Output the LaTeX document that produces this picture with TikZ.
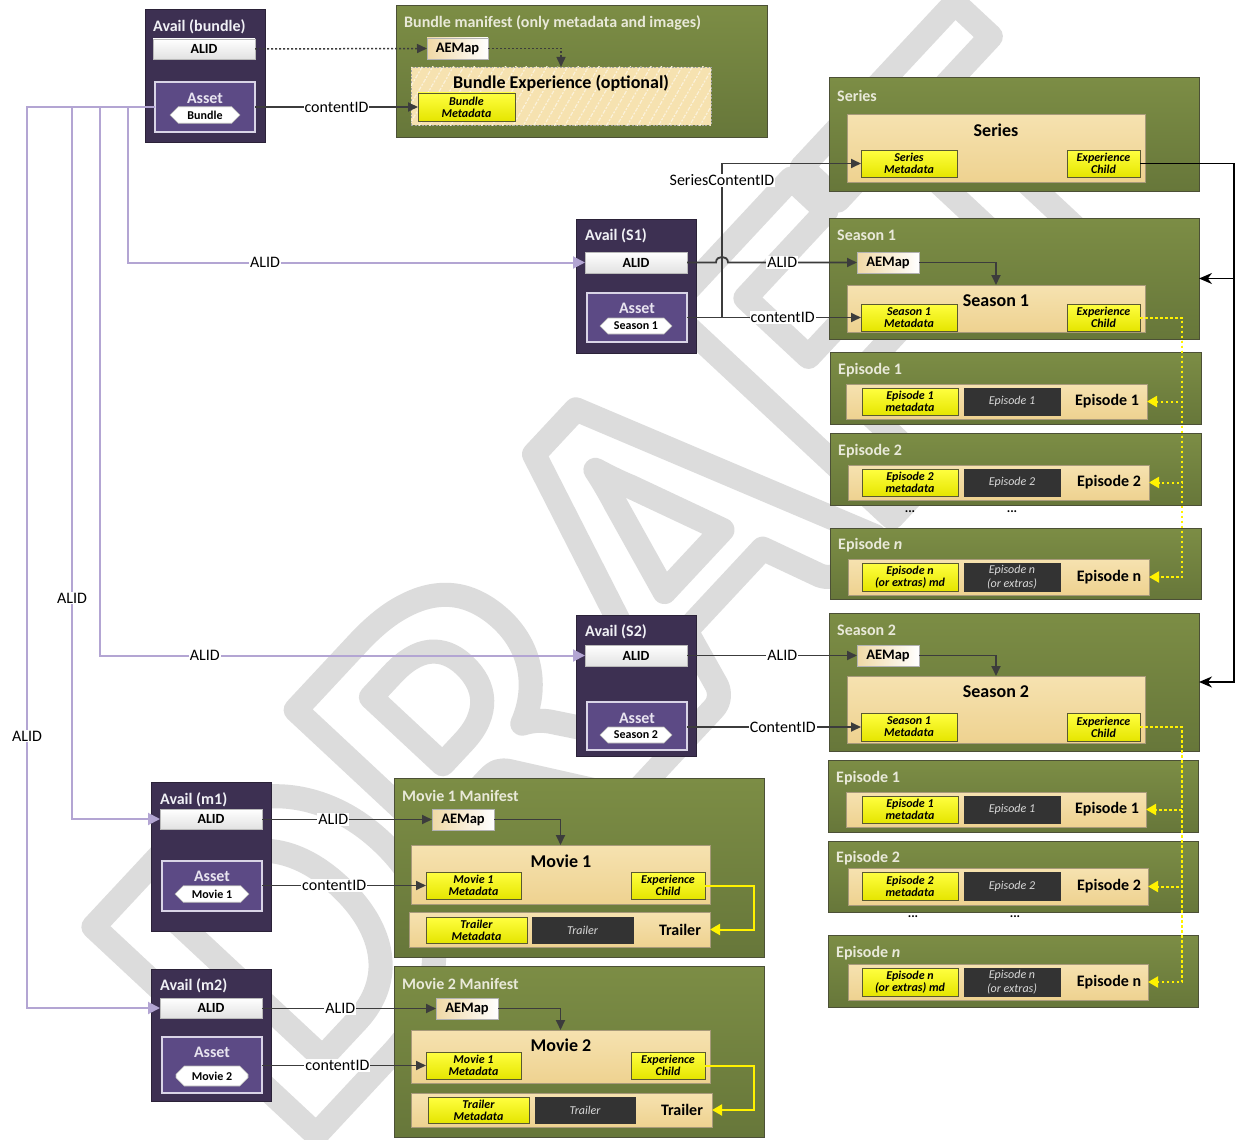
\documentclass[tikz,border=0pt]{standalone}
\usepackage{fontspec}
\setmainfont{Carlito}
\usetikzlibrary{arrows.meta,patterns.meta,shapes.misc}
\definecolor{avail}{HTML}{3D3052}
\definecolor{availbd}{HTML}{2B2238}
\definecolor{asset}{HTML}{5C4A85}
\definecolor{assetbd}{HTML}{D9D4E6}
\definecolor{alidB}{HTML}{E2E2E2}
\definecolor{grnT}{HTML}{7C8D45}
\definecolor{grnB}{HTML}{67773A}
\definecolor{grnbd}{HTML}{4C5036}
\definecolor{grntxt}{HTML}{E9E9D9}
\definecolor{beigeT}{HTML}{F6E2B0}
\definecolor{beigeB}{HTML}{EED290}
\definecolor{beigebd}{HTML}{A89A7A}
\definecolor{yelT}{HTML}{FFFF40}
\definecolor{yelB}{HTML}{E5E500}
\definecolor{ybd}{HTML}{5A5A30}
\definecolor{darkbx}{HTML}{333333}
\definecolor{dbtxt}{HTML}{DADADA}
\definecolor{aemL}{HTML}{F0D9A6}
\definecolor{lav}{HTML}{B3A5D3}
\definecolor{connc}{HTML}{3C3C3C}
\definecolor{wm}{HTML}{DCDCDC}
\definecolor{availtxt}{HTML}{F0F0F5}
\definecolor{assettxt}{HTML}{E8E4F0}
\begin{document}
\begin{tikzpicture}[x=1pt,y=-1pt,
  bx/.style={draw, anchor=north west, inner sep=0pt, outer sep=0pt},
  wh/.style 2 args={minimum width=#1pt, minimum height=#2pt},
  availbox/.style={bx, fill=avail, draw=availbd, line width=1pt},
  assetbox/.style={bx, fill=asset, draw=assetbd, line width=1.2pt},
  alid/.style={bx, top color=white, bottom color=alidB, draw=gray!55, line width=0.8pt, font=\fontsize{14}{14}\selectfont\bfseries},
  grn/.style={bx, top color=grnT, bottom color=grnB, draw=grnbd, line width=1pt},
  bg/.style={bx, top color=beigeT, bottom color=beigeB, draw=beigebd, line width=1pt},
  yb/.style={bx, top color=yelT, bottom color=yelB, draw=ybd, line width=0.8pt, align=center, font=\fontsize{12}{12}\selectfont\bfseries\itshape},
  db/.style={bx, fill=darkbx, draw=black!80, line width=0.6pt, align=center, text=dbtxt, font=\fontsize{12}{14}\selectfont\itshape},
  aem/.style={bx, left color=aemL, right color=white, draw=gray!60, line width=0.8pt, font=\fontsize{14.5}{14.5}\selectfont\bfseries},
  ttlw/.style={anchor=west, inner sep=0pt, text=availtxt, font=\fontsize{16}{16}\selectfont\bfseries},
  ttlg/.style={anchor=west, inner sep=0pt, text=grntxt, font=\fontsize{16}{16}\selectfont\bfseries},
  big/.style={inner sep=0pt, font=\fontsize{18}{18}\selectfont\bfseries},
  eplab/.style={inner sep=0pt, font=\fontsize{16}{16}\selectfont\bfseries},
  assett/.style={inner sep=0pt, text=assettxt, font=\fontsize{16}{16}\selectfont\bfseries},
  hexn/.style={chamfered rectangle, chamfered rectangle xsep=8pt, chamfered rectangle ysep=4pt, fill=white, draw=gray!60, line width=0.6pt, inner sep=0pt, font=\fontsize{12}{12}\selectfont\bfseries},
  lbl/.style={fill=white, inner sep=1pt, font=\fontsize{16}{16}\selectfont},
  conn/.style={draw=connc, line width=1.8pt, -{Triangle[length=10pt,width=9pt]}},
  lavc/.style={draw=lav, line width=2pt, -{Triangle[length=12pt,width=12pt]}},
  ydot/.style={draw=yellow, line width=2pt, dash pattern=on 2.5pt off 2.5pt, -{Triangle[length=10pt,width=11pt]}},
  ysol/.style={draw=yellow, line width=2pt, -{Triangle[length=10pt,width=11pt]}},
  blk/.style={draw=black, line width=1.8pt, -{Stealth[length=13pt,width=11pt]}},
  dotc/.style={draw=connc, line width=1.5pt, dash pattern=on 2pt off 2pt, -{Triangle[length=10pt,width=9pt]}},
  dotsn/.style={inner sep=0pt, font=\fontsize{13}{13}\selectfont\bfseries}
]
\fill[white] (0,0) rectangle (1235,1140);
\useasboundingbox (0,0) rectangle (1235,1140);
% watermark
\begin{scope}
\clip (0,0) rectangle (1235,1140);
\node[rotate=47, inner sep=0pt, text=wm, font=\fontsize{470}{470}\selectfont\bfseries] (wmk) at (628,577) {\special{pdf:literal direct q 1 Tr 24 w 1 j}DRAFT\special{pdf:literal direct Q}};
\end{scope}

% ---------- Avail (bundle)
\node[availbox, wh={120}{132}] (avb) at (145,10) {};
\node[ttlw] (avbT) at (153,27) {Avail (bundle)};
\node[alid, wh={102}{20}] (avbA) at (153,39) {ALID};
\node[assetbox, wh={100}{50}] (avbS) at (155,82) {};
\node[assett] (avbST) at (205,98) {Asset};
\node[hexn, wh={70}{15}] (avbH) at (205,115) {Bundle};

% ---------- Bundle manifest
\node[grn, wh={371}{131}] (bm) at (396,6) {};
\node[ttlg] (bmT) at (404,23) {Bundle manifest (only metadata and images)};
\node[aem, wh={61}{21}] (bmA) at (427,38) {AEMap};
\node[bx, wh={300}{58}, fill=beigeT, draw=gray!70, dash pattern=on 2pt off 1.5pt, line width=0.9pt,
  postaction={pattern={Lines[angle=60,distance=9pt,line width=1.2pt]}, pattern color=white!55!beigeT}] (bmE) at (411,67) {};
\node[big] (bmET) at (561,83) {Bundle Experience (optional)};
\node[yb, wh={97}{28}] (bmM) at (418,93) {Bundle\\Metadata};

% ---------- Series
\node[grn, wh={370}{113}] (se) at (829,78) {};
\node[ttlg] (seT) at (837,96) {Series};
\node[bg, wh={298}{68}] (seI) at (847,114) {};
\node[big] (seIT) at (996,130) {Series};
\node[yb, wh={96}{27}] (seM) at (861,150) {Series\\Metadata};
\node[yb, wh={73}{27}] (seX) at (1067,150) {Experience\\Child};

% ---------- Season 1
\node[grn, wh={370}{121}] (s1) at (829,218) {};
\node[ttlg] (s1T) at (837,235) {Season 1};
\node[aem, wh={62}{21}] (s1A) at (857,252) {AEMap};
\node[bg, wh={298}{47}] (s1I) at (847,285) {};
\node[big] (s1IT) at (996,301) {Season 1};
\node[yb, wh={96}{27}] (s1M) at (861,304) {Season 1\\Metadata};
\node[yb, wh={73}{27}] (s1X) at (1067,304) {Experience\\Child};

% ---------- Episodes of season 1
\node[grn, wh={371}{72}] (e1) at (830,352) {};
\node[ttlg] (e1T) at (838,370) {Episode 1};
\node[bg, wh={301}{35}] (e1I) at (846,384) {};
\node[yb, wh={96}{27}] (e1M) at (862,388) {Episode 1\\metadata};
\node[db, wh={96}{27}] (e1D) at (964,388) {Episode 1};
\node[eplab] (e1L) at (1107,401) {Episode 1};

\node[grn, wh={371}{72}] (e2) at (830,433) {};
\node[ttlg] (e2T) at (838,451) {Episode 2};
\node[bg, wh={301}{35}] (e2I) at (848,465) {};
\node[yb, wh={96}{27}] (e2M) at (862,469) {Episode 2\\metadata};
\node[db, wh={96}{27}] (e2D) at (964,469) {Episode 2};
\node[eplab] (e2L) at (1109,482) {Episode 2};
\node[dotsn] (da1) at (910,512) {...};
\node[dotsn] (da2) at (1012,512) {...};

\node[grn, wh={371}{71}] (en) at (830,528) {};
\node[ttlg] (enT) at (838,545) {Episode \textit{n}};
\node[bg, wh={301}{36}] (enI) at (848,559) {};
\node[yb, wh={96}{28}] (enM) at (862,563) {Episode n\\(or extras) md};
\node[db, wh={96}{28}] (enD) at (964,563) {Episode n\\(or extras)};
\node[eplab] (enL) at (1109,577) {Episode n};

% ---------- Season 2
\node[grn, wh={370}{138}] (s2) at (829,613) {};
\node[ttlg] (s2T) at (837,630) {Season 2};
\node[aem, wh={62}{21}] (s2A) at (857,645) {AEMap};
\node[bg, wh={298}{67}] (s2I) at (847,676) {};
\node[big] (s2IT) at (996,692) {Season 2};
\node[yb, wh={96}{28}] (s2M) at (861,713) {Season 1\\Metadata};
\node[yb, wh={73}{28}] (s2X) at (1067,713) {Experience\\Child};

% ---------- Episodes of season 2
\node[grn, wh={370}{72}] (f1) at (828,760) {};
\node[ttlg] (f1T) at (836,778) {Episode 1};
\node[bg, wh={300}{35}] (f1I) at (846,792) {};
\node[yb, wh={96}{27}] (f1M) at (862,796) {Episode 1\\metadata};
\node[db, wh={96}{27}] (f1D) at (964,796) {Episode 1};
\node[eplab] (f1L) at (1107,809) {Episode 1};

\node[grn, wh={370}{71}] (f2) at (828,841) {};
\node[ttlg] (f2T) at (836,858) {Episode 2};
\node[bg, wh={300}{37}] (f2I) at (848,868) {};
\node[yb, wh={96}{28}] (f2M) at (862,872) {Episode 2\\metadata};
\node[db, wh={96}{28}] (f2D) at (964,872) {Episode 2};
\node[eplab] (f2L) at (1109,886) {Episode 2};
\node[dotsn] (db1) at (913,917) {...};
\node[dotsn] (db2) at (1015,917) {...};

\node[grn, wh={370}{72}] (fn) at (828,935) {};
\node[ttlg] (fnT) at (836,953) {Episode \textit{n}};
\node[bg, wh={300}{36}] (fnI) at (848,964) {};
\node[yb, wh={96}{28}] (fnM) at (862,968) {Episode n\\(or extras) md};
\node[db, wh={96}{28}] (fnD) at (964,968) {Episode n\\(or extras)};
\node[eplab] (fnL) at (1109,982) {Episode n};

% ---------- Avail (S1)
\node[availbox, wh={120}{134}] (as1) at (576,219) {};
\node[ttlw] (as1T) at (585,236) {Avail (S1)};
\node[alid, wh={102}{21}] (as1A) at (585,252) {ALID};
\node[assetbox, wh={100}{49}] (as1S) at (587,293) {};
\node[assett] (as1ST) at (637,308) {Asset};
\node[hexn, wh={72}{16}] (as1H) at (636,326) {Season 1};

% ---------- Avail (S2)
\node[availbox, wh={120}{141}] (as2) at (576,615) {};
\node[ttlw] (as2T) at (585,632) {Avail (S2)};
\node[alid, wh={102}{21}] (as2A) at (585,645) {ALID};
\node[assetbox, wh={100}{48}] (as2S) at (587,702) {};
\node[assett] (as2ST) at (637,718) {Asset};
\node[hexn, wh={72}{16}] (as2H) at (636,735) {Season 2};

% ---------- Avail (m1)
\node[availbox, wh={120}{149}] (am1) at (151,782) {};
\node[ttlw] (am1T) at (160,800) {Avail (m1)};
\node[alid, wh={102}{20}] (am1A) at (160,809) {ALID};
\node[assetbox, wh={100}{50}] (am1S) at (162,861) {};
\node[assett] (am1ST) at (212,876) {Asset};
\node[hexn, wh={74}{16}] (am1H) at (212,894) {Movie 1};

% ---------- Movie 1 manifest
\node[grn, wh={370}{179}] (m1) at (394,778) {};
\node[ttlg] (m1T) at (402,796) {Movie 1 Manifest};
\node[aem, wh={62}{21}] (m1A) at (432,809) {AEMap};
\node[bg, wh={299}{59}] (m1I) at (411,845) {};
\node[big] (m1IT) at (561,861) {Movie 1};
\node[yb, wh={95}{27}] (m1M) at (426,872) {Movie 1\\Metadata};
\node[yb, wh={74}{27}] (m1X) at (631,872) {Experience\\Child};
\node[bg, wh={301}{35}] (m1Tr) at (409,912) {};
\node[yb, wh={101}{26}] (m1TM) at (426,917) {Trailer\\Metadata};
\node[db, wh={101}{26}] (m1TD) at (532,917) {Trailer};
\node[eplab] (m1TL) at (680,930) {Trailer};

% ---------- Avail (m2)
\node[availbox, wh={120}{132}] (am2) at (151,969) {};
\node[ttlw] (am2T) at (160,986) {Avail (m2)};
\node[alid, wh={102}{20}] (am2A) at (160,998) {ALID};
\node[assetbox, wh={100}{56}] (am2S) at (162,1037) {};
\node[assett] (am2ST) at (212,1052) {Asset};
\node[hexn, wh={72}{20}] (am2H) at (212,1076) {Movie 2};

% ---------- Movie 2 manifest
\node[grn, wh={370}{171}] (m2) at (394,966) {};
\node[ttlg] (m2T) at (402,984) {Movie 2 Manifest};
\node[aem, wh={62}{21}] (m2A) at (436,998) {AEMap};
\node[bg, wh={299}{53}] (m2I) at (411,1030) {};
\node[big] (m2IT) at (561,1045) {Movie 2};
\node[yb, wh={95}{27}] (m2M) at (426,1052) {Movie 1\\Metadata};
\node[yb, wh={74}{27}] (m2X) at (631,1052) {Experience\\Child};
\node[bg, wh={301}{34}] (m2Tr) at (411,1093) {};
\node[yb, wh={101}{26}] (m2TM) at (428,1097) {Trailer\\Metadata};
\node[db, wh={100}{26}] (m2TD) at (535,1097) {Trailer};
\node[eplab] (m2TL) at (682,1110) {Trailer};

% ---------- connectors: bundle
\draw[dotc] (avbA.east) -- (bmA.west);
\draw[dotc] (bmA.east) -| (bmE.north);
\draw[conn] (avbS.east) -- node[lbl, pos=0.5] (c1) {contentID} (bmM.west);

% ---------- lavender ALID lines
\draw[lavc] (avbS.west) -- (128,107) |- node[lbl, pos=0.65] (c2) {ALID} (as1A.west);
\draw[lavc] (avbS.west) -- (100,107) |- node[lbl, pos=0.608] (c3) {ALID} (as2A.west);
\draw[lavc] (avbS.west) -- (72,107) |- node[lbl, pos=0.345] (c4) {ALID} (am1A.west);
\draw[lavc] (avbS.west) -- (27,107) |- node[lbl, pos=0.349] (c5) {ALID} (am2A.west);

% ---------- Season 1
\coordinate (sj) at (722,317.5);
\draw[conn] (sj) |- node[lbl, pos=0.446] (c8) {SeriesContentID} (seM.west);
\draw[conn] (as1A.east) -- (716,262.5) .. controls (716,255) and (728,255) .. (728,262.5) -- node[lbl, pos=0.42] (c6) {ALID} (s1A.west);
\draw[conn] (as1S.east |- s1M.west) -- node[lbl, pos=0.55] (c7) {contentID} (s1M.west);
\draw[conn] (s1A.east) -| (s1I.north);

% ---------- Season 2
\draw[conn] (as2A.east |- s2A.west) -- node[lbl, pos=0.56] (c9) {ALID} (s2A.west);
\draw[conn] (as2S.east |- s2M.west) -- node[lbl, pos=0.55] (c10) {ContentID} (s2M.west);
\draw[conn] (s2A.east) -| (s2I.north);

% ---------- Movies
\draw[conn] (am1A.east |- m1A.west) -- node[lbl, pos=0.42] (c11) {ALID} (m1A.west);
\draw[conn] (am1S.east |- m1M.west) -- node[lbl, pos=0.44] (c12) {contentID} (m1M.west);
\draw[conn] (m1A.east) -| (m1I.north);
\draw[ysol] (m1X.east) -- ++(49,0) |- (m1Tr.east);

\draw[conn] (am2A.east |- m2A.west) -- node[lbl, pos=0.45] (c13) {ALID} (m2A.west);
\draw[conn] (am2S.east |- m2M.west) -- node[lbl, pos=0.46] (c14) {contentID} (m2M.west);
\draw[conn] (m2A.east) -| (m2I.north);
\draw[ysol] (m2X.east) -- ++(49,0) |- (m2Tr.east);

% ---------- Series experience child to seasons
\draw[blk] (seX.east) -- ++(94,0) |- (s1.east);
\draw[blk] (seX.east) -- ++(94,0) |- (s2.east);

% ---------- Season experience children to episodes
\draw[ydot] (s1X.east) -- ++(42,0) |- (e1I.east);
\draw[ydot] (s1X.east) -- ++(42,0) |- (e2I.east);
\draw[ydot] (s1X.east) -- ++(42,0) |- (enI.east);
\draw[ydot] (s2X.east) -- ++(42,0) |- (f1I.east);
\draw[ydot] (s2X.east) -- ++(42,0) |- (f2I.east);
\draw[ydot] (s2X.east) -- ++(42,0) |- (fnI.east);
\end{tikzpicture}
\end{document}
